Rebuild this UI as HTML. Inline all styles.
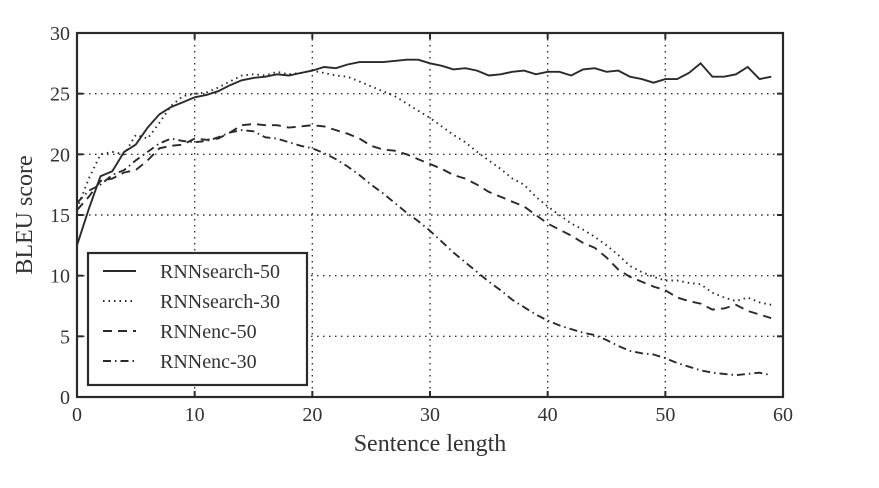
<!DOCTYPE html>
<html><head><meta charset="utf-8"><style>
html,body{margin:0;padding:0;background:#fff;}
svg{display:block;font-family:"Liberation Serif",serif;}
</style></head><body>
<svg id="s" width="879" height="488" xmlns="http://www.w3.org/2000/svg">
<rect width="879" height="488" fill="#fff"/>
<g id="grid" stroke="#333" stroke-width="1.4" stroke-dasharray="1.5,4.5"></g>
<g id="series" fill="none" stroke="#2a2a2a" stroke-width="1.9"></g>
<g id="tm" stroke="#2a2a2a" stroke-width="2"></g>
<rect x="77" y="33" width="706" height="364" fill="none" stroke="#2a2a2a" stroke-width="2.2"/>
<g id="ticks" fill="#333" font-size="20"></g>
<text x="430" y="451" text-anchor="middle" font-size="24" fill="#333">Sentence length</text>
<text transform="translate(32,215) rotate(-90)" text-anchor="middle" font-size="24" fill="#333">BLEU score</text>
<rect x="88" y="253" width="219" height="132" fill="#fff" stroke="#2a2a2a" stroke-width="2.2"/>
<g fill="none" stroke="#2a2a2a" stroke-width="1.9">
<line x1="103" y1="271" x2="136" y2="271"/>
<line x1="103" y1="301" x2="136" y2="301" stroke-dasharray="1.5,4"/>
<line x1="103" y1="331" x2="136" y2="331" stroke-dasharray="9,6"/>
<line x1="103" y1="361" x2="136" y2="361" stroke-dasharray="8,4,1.5,4"/>
</g>
<g font-size="20" fill="#333">
<text x="160" y="278">RNNsearch-50</text>
<text x="160" y="308">RNNsearch-30</text>
<text x="160" y="338">RNNenc-50</text>
<text x="160" y="368">RNNenc-30</text>
</g>
</svg>
<script>
var X=function(v){return 77+v*706/60},Y=function(v){return 397-v*364/30};
var ns="http://www.w3.org/2000/svg";
function el(p,t,a){var e=document.createElementNS(ns,t);for(var k in a)e.setAttribute(k,a[k]);p.appendChild(e);return e;}
var g=document.getElementById('grid'),tk=document.getElementById('ticks'),tm=document.getElementById('tm');
for(var i=10;i<60;i+=10){el(g,'line',{x1:X(i),y1:33,x2:X(i),y2:397});el(tm,'line',{x1:X(i),y1:33,x2:X(i),y2:39});el(tm,'line',{x1:X(i),y1:391,x2:X(i),y2:397});}
for(var j=5;j<30;j+=5){el(g,'line',{x1:77,y1:Y(j),x2:783,y2:Y(j)});el(tm,'line',{x1:77,y1:Y(j),x2:83,y2:Y(j)});el(tm,'line',{x1:777,y1:Y(j),x2:783,y2:Y(j)});}
for(var i=0;i<=60;i+=10){var t=el(tk,'text',{x:X(i),y:421,'text-anchor':'middle'});t.textContent=i;}
for(var j=0;j<=30;j+=5){var t=el(tk,'text',{x:70,y:Y(j)+7,'text-anchor':'end'});t.textContent=j;}
var S=[
[[12.5,15.5,18.2,18.6,20.2,20.8,22.2,23.3,23.9,24.3,24.7,24.9,25.2,25.7,26.1,26.3,26.4,26.6,26.5,26.7,26.9,27.2,27.1,27.4,27.6,27.6,27.6,27.7,27.8,27.8,27.5,27.3,27.0,27.1,26.9,26.5,26.6,26.8,26.9,26.6,26.8,26.8,26.5,27.0,27.1,26.8,26.9,26.4,26.2,25.9,26.2,26.2,26.7,27.5,26.4,26.4,26.6,27.2,26.2,26.4],null],
[[15.5,18,20,20.2,20,21.6,21.3,22.6,24,24.8,25,25.1,25.5,26,26.5,26.6,26.5,26.8,26.6,26.7,26.9,26.7,26.5,26.4,26,25.6,25.2,24.8,24.2,23.6,23,22.3,21.6,21,20.2,19.5,18.8,18,17.5,16.5,15.7,15,14.3,13.8,13.2,12.5,11.7,10.8,10.3,9.9,9.6,9.6,9.4,9.3,8.6,8.2,7.9,8.2,7.8,7.6],"1.5,4"],
[[15.4,16.5,17.8,18,18.5,18.7,19.5,20.5,20.7,20.8,21.3,21.2,21.3,21.8,22.4,22.5,22.4,22.4,22.2,22.3,22.4,22.3,22,21.7,21.3,20.7,20.4,20.3,20,19.6,19.2,18.8,18.3,18,17.5,16.9,16.5,16.1,15.7,15,14.3,13.8,13.3,12.7,12.3,11.5,10.5,9.9,9.5,9.1,8.8,8.2,7.9,7.7,7.2,7.3,7.6,7.1,6.8,6.5],"9,6"],
[[16,17,17.5,18.3,18.7,19.5,20.2,20.9,21.3,21.1,21,21.1,21.4,21.8,22,21.9,21.4,21.3,21,20.7,20.5,20.1,19.6,19,18.3,17.5,16.8,16,15.2,14.5,13.7,12.8,11.9,11.1,10.3,9.5,8.8,8,7.4,6.8,6.3,5.9,5.6,5.3,5.1,4.7,4.2,3.8,3.6,3.5,3.2,2.8,2.5,2.2,2,1.9,1.8,1.9,2,1.8],"8,4,1.5,4"]];
var sg=document.getElementById('series');
S.forEach(function(s){var pts=s[0].map(function(v,i){return X(i).toFixed(1)+","+Y(v).toFixed(1)}).join(" ");
var a={points:pts};if(s[1])a['stroke-dasharray']=s[1];el(sg,'polyline',a);});
</script>
</body></html>
